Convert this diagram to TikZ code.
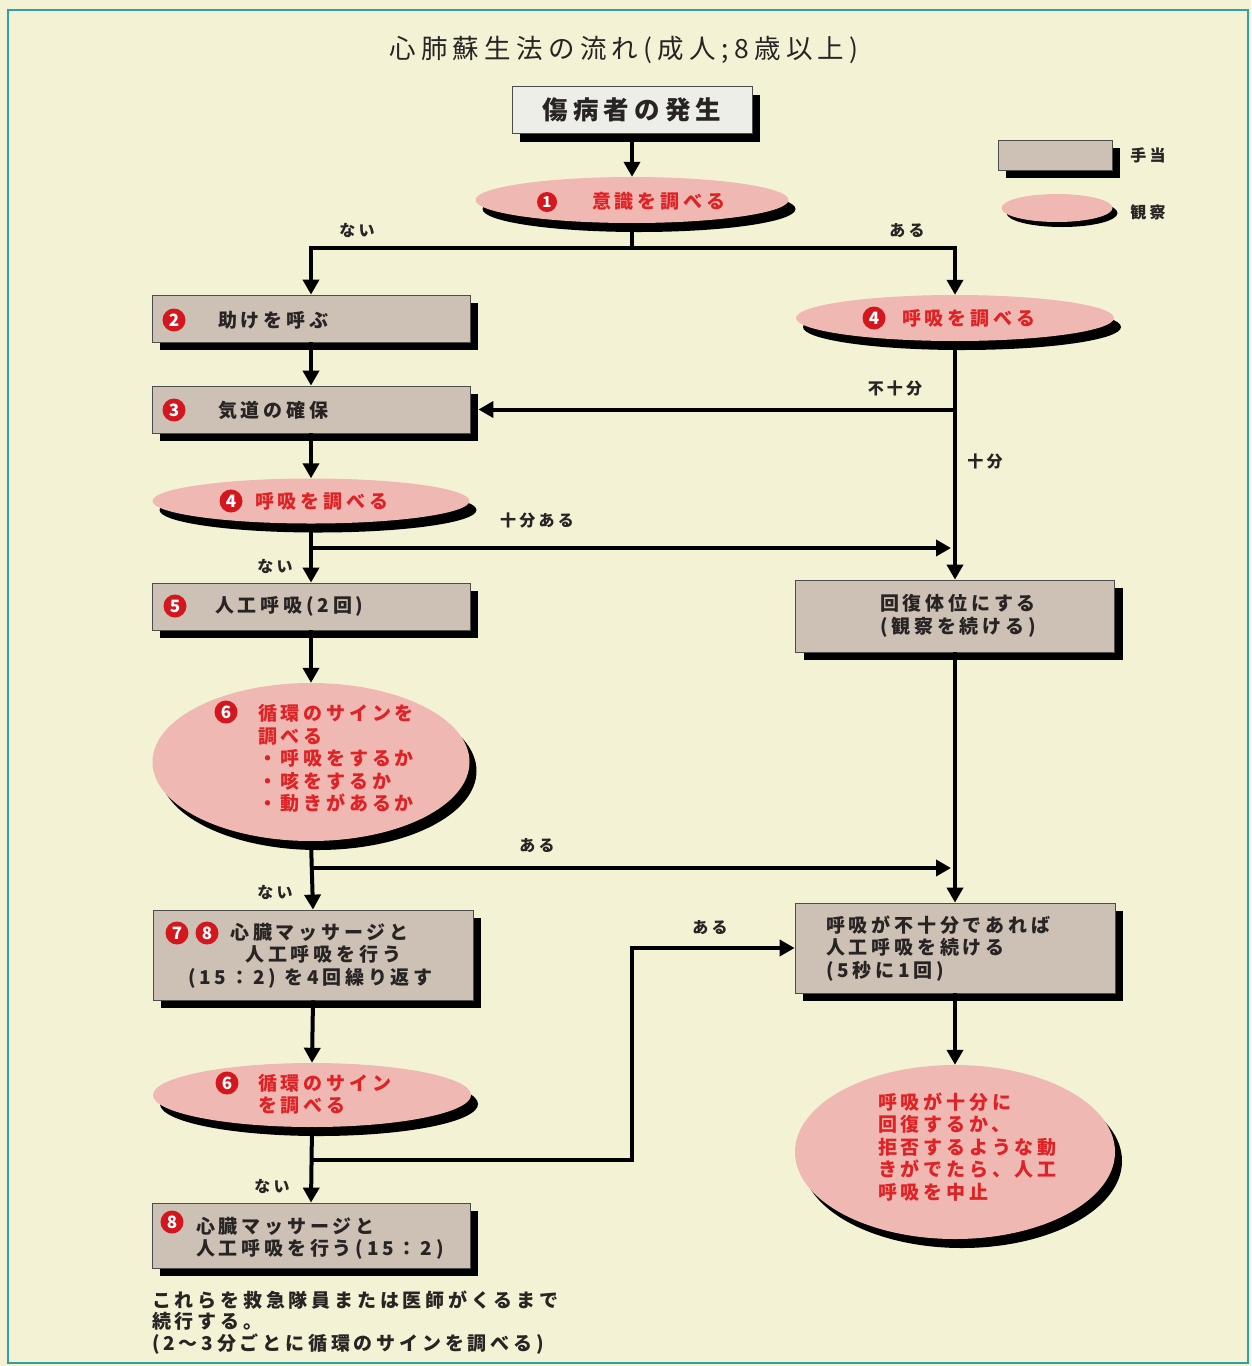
\documentclass[tikz,border=0pt]{standalone}
\usepackage{fontspec}
\newfontfamily\jp{Noto Sans CJK JP}[LetterSpace=20]
\usetikzlibrary{shapes.geometric,shadows,arrows.meta}
\definecolor{bgc}{RGB}{244,242,212}
\definecolor{pinkc}{RGB}{240,184,178}
\definecolor{tanc}{RGB}{204,193,180}
\definecolor{startc}{RGB}{238,238,232}
\definecolor{redtext}{RGB}{222,34,38}
\definecolor{numred}{RGB}{212,22,30}
\definecolor{darktext}{RGB}{40,36,36}
\definecolor{tealc}{RGB}{50,160,160}
\begin{document}
\begin{tikzpicture}[x=1pt,y=-1pt,
  tbox/.style={draw=black!70, line width=0.8pt, fill=tanc, inner sep=0pt,
    drop shadow={shadow xshift=8pt,shadow yshift=-8pt,fill=black,opacity=1}},
  obs/.style={ellipse, fill=pinkc, inner sep=0pt,
    drop shadow={shadow xshift=7pt,shadow yshift=-9pt,fill=black,opacity=1}},
  obsS/.style={ellipse, fill=pinkc, inner sep=0pt,
    drop shadow={shadow xshift=5pt,shadow yshift=-5pt,fill=black,opacity=1}},
  numc/.style={circle, fill=numred, text=white, inner sep=0pt, minimum size=23pt,
    font=\jp\bfseries\fontsize{17}{17}\selectfont},
  txt/.style={inner sep=0pt, anchor=west, align=left, text=darktext,
    font=\jp\bfseries\fontsize{19}{22.5}\selectfont},
  rtxt/.style={txt, text=redtext},
  lbl/.style={inner sep=0pt, text=darktext, font=\jp\bfseries\fontsize{16}{18}\selectfont},
  conn/.style={line width=4pt, draw=black},
  arr/.style={conn, -{Triangle[width=16pt,length=15pt]}}]

\fill[bgc] (0,0) rectangle (1251,1366);
\useasboundingbox (0,0) rectangle (1251,1366);
\draw[tealc, line width=2.5pt] (8,10) rectangle (1248,1363);

% title
\node[text=darktext, font=\jp\fontsize{26.5}{30}\selectfont] (title) at (624,50) {心肺蘇生法の流れ(成人;8歳以上)};

% legend
\node[tbox, minimum width=114pt, minimum height=30pt] (lg1) at (1055,155) {};
\node[lbl] (lg1t) at (1148,155) {手当};
\node[obsS, minimum width=111pt, minimum height=28pt] (lg2) at (1057,208) {};
\node[lbl] (lg2t) at (1148,212) {観察};

% start
\node[tbox, fill=startc, minimum width=240pt, minimum height=47pt, text=darktext,
  font=\jp\bfseries\fontsize{25.5}{28}\selectfont] (start) at (632,110) {傷病者の発生};

% shapes
\node[obs, minimum width=313pt, minimum height=46pt] (e1) at (632,200) {};
\node[tbox, minimum width=318pt, minimum height=47pt] (b2) at (311,318.5) {};
\node[tbox, minimum width=318pt, minimum height=47pt] (b3) at (311,409.5) {};
\node[obs, minimum width=317pt, minimum height=45pt] (e4L) at (311,501) {};
\node[obs, minimum width=318pt, minimum height=46pt] (e4R) at (955,318) {};
\node[tbox, minimum width=318pt, minimum height=47pt] (b5) at (311,606.5) {};
\node[obs, minimum width=317pt, minimum height=158pt] (e6) at (311,762) {};
\node[tbox, minimum width=320pt, minimum height=90pt] (b78) at (313,955) {};
\node[obs, minimum width=318pt, minimum height=64pt] (e6b) at (312,1095) {};
\node[tbox, minimum width=318pt, minimum height=65pt] (b8) at (311,1235.5) {};
\node[tbox, minimum width=319pt, minimum height=72pt] (rec) at (955,616) {};
\node[tbox, minimum width=320pt, minimum height=90pt] (rb) at (955,948) {};
\node[obs, minimum width=320pt, minimum height=174pt] (eend) at (955,1152) {};

% texts
\node[numc, minimum size=20pt, font=\jp\bfseries\fontsize{15}{15}\selectfont] (n1) at (547,202) {1};
\node[rtxt] (t1) at (592,201) {意識を調べる};
\node[numc] (n2) at (174,320) {2};
\node[txt] (t2) at (218,320) {助けを呼ぶ};
\node[numc] (n3) at (174,410) {3};
\node[txt] (t3) at (218,410) {気道の確保};
\node[numc] (n4a) at (231,501) {4};
\node[rtxt] (t4a) at (255,501) {呼吸を調べる};
\node[numc] (n4b) at (874,318) {4};
\node[rtxt] (t4b) at (902,318) {呼吸を調べる};
\node[numc] (n5) at (175,606) {5};
\node[txt] (t5) at (215,606) {人工呼吸(2回)};
\node[numc] (n6) at (226,712) {6};
\node[rtxt] (t6) at (258,758.5) {循環のサインを\\調べる\\・呼吸をするか\\・咳をするか\\・動きがあるか};
\node[numc] (n7) at (177,933) {7};
\node[numc] (n8a) at (207,933) {8};
\node[txt] (t78) at (188,955.5) {\hspace*{42pt}心臓マッサージと\\\hspace*{57pt}人工呼吸を行う\\(15：2) を4回繰り返す};
\node[numc] (n6b) at (227,1083) {6};
\node[rtxt] (t6b) at (258,1094.5) {循環のサイン\\を調べる};
\node[numc] (n8b) at (172,1222) {8};
\node[txt] (t8) at (196,1238.5) {心臓マッサージと\\人工呼吸を行う(15：2)};
\node[txt, anchor=center, align=center] (trec) at (958,616) {回復体位にする\\(観察を続ける)};
\node[txt] (trb) at (826,948.5) {呼吸が不十分であれば\\人工呼吸を続ける\\(5秒に1回)};
\node[rtxt] (tend) at (878,1147) {呼吸が十分に\\回復するか、\\拒否するような動\\きがでたら、人工\\呼吸を中止};
\node[txt, font=\jp\bfseries\fontsize{19}{21.5}\selectfont] (note) at (152,1322.5) {これらを救急隊員または医師がくるまで\\続行する。\\(2～3分ごとに循環のサインを調べる)};

% connectors
\draw[arr] (start.south) -- (e1.north);
\coordinate (j1) at (632,248);
\draw[conn] (e1.south) -- (j1);
\draw[arr] (j1) -| (b2.north);
\draw[arr] (j1) -| (e4R.north);
\draw[arr] (b2.south) -- (b3.north);
\draw[arr] (b3.south) -- (e4L.north);
\draw[arr] (e4L.south) -- (b5.north);
\coordinate (j2) at (311,548);
\coordinate (m2) at (951,548);
\draw[arr] (j2) -- (m2);
\draw[arr] (e4R.south) -- (rec.north);
\coordinate (j3) at (e4R.south |- b3.east);
\draw[arr] (j3) -- ([xshift=8pt]b3.east);
\draw[arr] (b5.south) -- (e6.north);
\draw[arr] (e6.south) -- (b78.north);
\coordinate (j4) at (311,868);
\coordinate (m4) at (951,868);
\draw[arr] (j4) -- (m4);
\draw[arr] (rec.south) -- (rb.north);
\draw[arr] (b78.south) -- (e6b.north);
\draw[arr] (e6b.south) -- (b8.north);
\coordinate (j5) at (311,1160);
\coordinate (k5) at (632,1160);
\draw[arr] (j5) -- (k5) |- (rb.west);
\draw[arr] (rb.south) -- (eend.north);

% labels
\node[lbl] (l1) at (357,230) {ない};
\node[lbl] (l2) at (907,231) {ある};
\node[lbl] (l3) at (895,388) {不十分};
\node[lbl] (l4) at (985,461) {十分};
\node[lbl] (l5) at (537,520) {十分ある};
\node[lbl] (l6) at (275,566) {ない};
\node[lbl] (l7) at (537,846) {ある};
\node[lbl] (l8) at (275,892) {ない};
\node[lbl] (l9) at (710,928) {ある};
\node[lbl] (l10) at (272,1186) {ない};
\end{tikzpicture}
\end{document}
